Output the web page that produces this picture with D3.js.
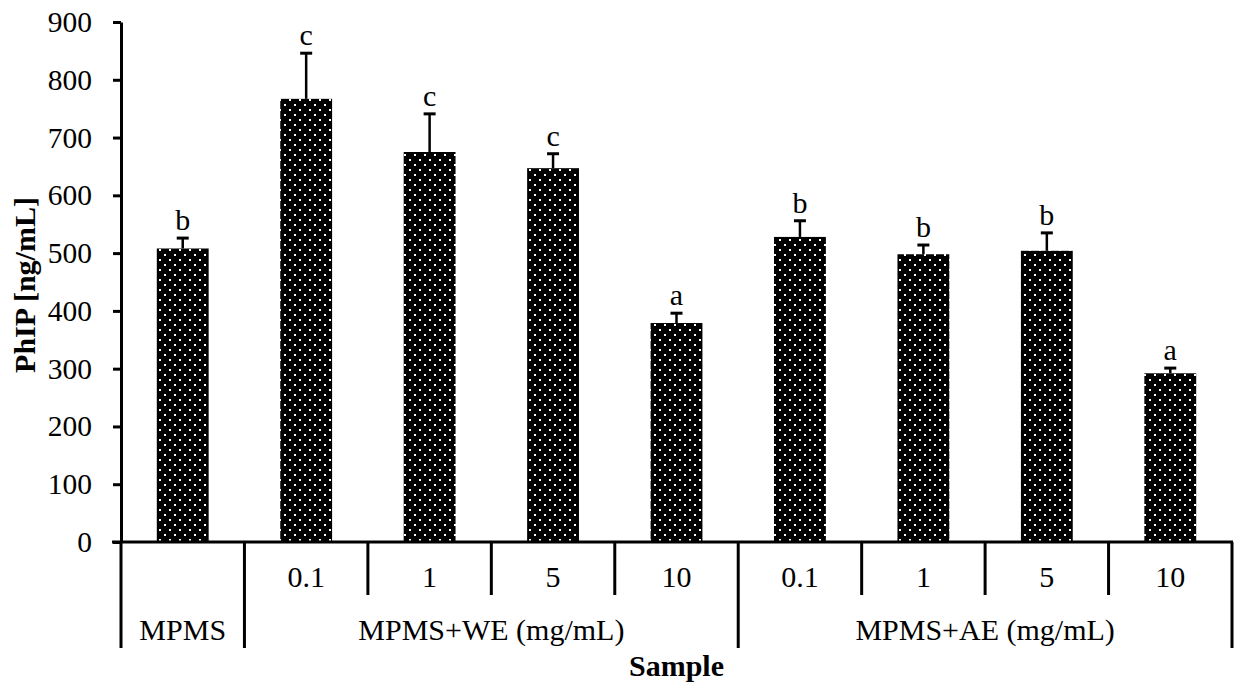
<!DOCTYPE html>
<html>

<head>
  <meta charset="utf8">
  <script src="https://d3js.org/d3.v7.min.js"></script>
  <style>
    body {
      margin: 0;
      background: #fff;
    }

    text {
      font-family: "Liberation Serif", "Times New Roman", serif;
      font-size: 30px;
      fill: #000;
    }

    .tick text {
      font-size: 29.5px;
    }

    .title {
      font-weight: bold;
    }
  </style>
</head>

<body>
  <svg id="chart" width="1238" height="688"></svg>
  <script>
    // data
    var doseLabels = ["", "0.1", "1", "5", "10", "0.1", "1", "5", "10"];
    var sampleIds = ["MPMS", "WE-0.1", "WE-1", "WE-5", "WE-10", "AE-0.1", "AE-1", "AE-5", "AE-10"];
    var groupNames = ["MPMS", "MPMS+WE (mg/mL)", "MPMS+AE (mg/mL)"];
    var groupSizes = [1, 4, 4];
    var means = [508, 767, 675, 647, 379, 528, 498, 504, 292];
    var errors = [18, 79, 66, 25, 17, 28, 16, 31, 9];
    var letters = ["b", "c", "c", "c", "a", "b", "b", "b", "a"];
    var yTicks = [0, 100, 200, 300, 400, 500, 600, 700, 800, 900];

    var chart = d3.select('#chart');
    var margin = { top: 22, right: 6, bottom: 146, left: 121 };
    var width = 1238 - margin.left - margin.right;
    var height = 688 - margin.top - margin.bottom;

    var defs = chart.append('defs');
    var pattern = defs.append('pattern')
      .attr('id', 'dots')
      .attr('patternUnits', 'userSpaceOnUse')
      .attr('width', 10)
      .attr('height', 10);
    pattern.append('rect').attr('width', 10).attr('height', 10).attr('fill', '#000');
    pattern.append('rect').attr('x', 3).attr('y', 2).attr('width', 2).attr('height', 2).attr('fill', '#fff');
    pattern.append('rect').attr('x', 8).attr('y', 7).attr('width', 2).attr('height', 2).attr('fill', '#fff');

    var g = chart.append('g')
      .attr('transform', 'translate(' + margin.left + ',' + margin.top + ')');

    var x = d3.scaleBand()
      .domain(sampleIds)
      .range([0, width])
      .paddingInner(0.58)
      .paddingOuter(0.29);

    var y = d3.scaleLinear()
      .domain([0, 900])
      .range([height, 0]);

    var step = x.step();

    // bars
    g.selectAll('.bar')
      .data(means)
      .enter()
      .append('rect')
      .attr('class', 'bar')
      .attr('x', (d, i) => x(sampleIds[i]))
      .attr('y', (d) => y(d))
      .attr('width', x.bandwidth())
      .attr('height', (d) => height - y(d))
      .attr('fill', 'url(#dots)');

    // error bars
    var err = g.selectAll('.err')
      .data(means)
      .enter()
      .append('g')
      .attr('class', 'err')
      .attr('transform', (d, i) => 'translate(' + (x(sampleIds[i]) + x.bandwidth() / 2) + ',0)');

    err.append('line')
      .attr('y1', (d) => y(d))
      .attr('y2', (d, i) => y(d + errors[i]))
      .attr('stroke', '#000')
      .attr('stroke-width', 2.5);

    err.append('line')
      .attr('x1', -6)
      .attr('x2', 6)
      .attr('y1', (d, i) => y(d + errors[i]))
      .attr('y2', (d, i) => y(d + errors[i]))
      .attr('stroke', '#000')
      .attr('stroke-width', 3);

    err.append('text')
      .attr('y', (d, i) => y(d + errors[i]) - 8)
      .attr('text-anchor', 'middle')
      .text((d, i) => letters[i]);

    // y axis
    var yAxis = g.append('g')
      .call(d3.axisLeft(y).tickValues(yTicks).tickSize(8).tickSizeOuter(0).tickPadding(21));
    yAxis.attr('font-size', null).attr('font-family', null);
    yAxis.select('.domain').attr('stroke-width', 3);
    yAxis.selectAll('.tick line').attr('stroke-width', 3);

    // x axis baseline
    g.append('line')
      .attr('x1', -9)
      .attr('x2', width + 1)
      .attr('y1', height)
      .attr('y2', height)
      .attr('stroke', '#000')
      .attr('stroke-width', 3);

    // separators under the axis
    var boundaries = d3.range(sampleIds.length + 1);
    var groupEdges = [0];
    groupSizes.forEach((s) => groupEdges.push(groupEdges[groupEdges.length - 1] + s));
    var edgeX = (i) => i === sampleIds.length ? width : x(sampleIds[i]) - (step - x.bandwidth()) / 2;

    g.selectAll('.sep')
      .data(boundaries)
      .enter()
      .append('line')
      .attr('class', 'sep')
      .attr('x1', edgeX)
      .attr('x2', edgeX)
      .attr('y1', height)
      .attr('y2', (d) => groupEdges.indexOf(d) >= 0 ? height + 106 : height + 53)
      .attr('stroke', '#000')
      .attr('stroke-width', 3);

    // dose labels
    g.selectAll('.dose')
      .data(doseLabels)
      .enter()
      .append('text')
      .attr('class', 'dose')
      .attr('x', (d, i) => x(sampleIds[i]) + x.bandwidth() / 2)
      .attr('y', height + 45)
      .attr('text-anchor', 'middle')
      .text((d) => d);

    // group labels
    g.selectAll('.group')
      .data(groupNames)
      .enter()
      .append('text')
      .attr('class', 'group')
      .attr('x', (d, i) => (edgeX(groupEdges[i]) + edgeX(groupEdges[i + 1])) / 2)
      .attr('y', height + 98)
      .attr('text-anchor', 'middle')
      .text((d) => d);

    // axis titles
    g.append('text')
      .attr('class', 'title')
      .attr('x', width / 2)
      .attr('y', height + 134)
      .attr('text-anchor', 'middle')
      .text('Sample');

    g.append('text')
      .attr('class', 'title')
      .attr('transform', 'translate(' + (35 - margin.left) + ',' + (285 - margin.top) + ') rotate(-90)')
      .attr('text-anchor', 'middle')
      .text('PhIP [ng/mL]');
  </script>
</body>

</html>
